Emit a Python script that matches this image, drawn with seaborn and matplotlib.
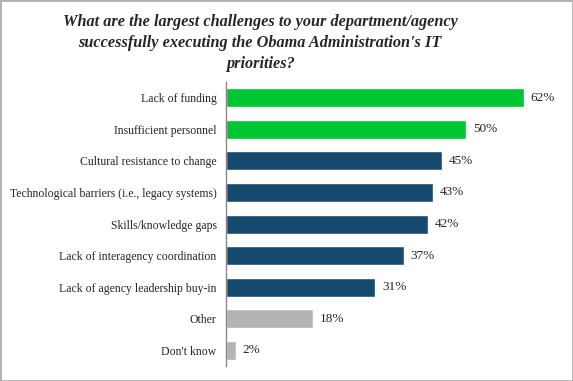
import pandas as pd
import seaborn as sns
import matplotlib.pyplot as plt
from matplotlib.patches import Rectangle

challenges = ['Lack of funding', 'Insufficient personnel', 'Cultural resistance to change',
              'Technological barriers (i.e., legacy systems)', 'Skills/knowledge gaps',
              'Lack of interagency coordination', 'Lack of agency leadership buy-in',
              'Other', "Don't know"]
percent = [62, 50, 45, 43, 42, 37, 31, 18, 2]
group = ['top', 'top', 'main', 'main', 'main', 'main', 'main', 'other', 'other']

colors = {'top': '#00c535', 'main': '#174a6f', 'other': '#b4b4b4'}

df = pd.DataFrame({'challenge': challenges, 'percent': percent, 'group': group})

sns.set_style('white')
plt.rcParams['font.family'] = ['Liberation Serif', 'DejaVu Serif']

fig = plt.figure(figsize=(5.73, 3.81), dpi=100)
ax = fig.add_axes([0.395, 0.039, 0.603, 0.746])
sns.barplot(data=df, x='percent', y='challenge', hue='group', palette=colors,
            dodge=False, legend=False, width=0.6, saturation=1, ax=ax)

for c in ax.containers:
    ax.bar_label(c, labels=[f'{v:.0f}%' for v in c.datavalues], padding=5, fontsize=9.5)

ax.set_xlim(0, 72)
ax.set_ylim(8.5, -0.5)
ax.set_xlabel('')
ax.set_ylabel('')
ax.set_xticks([])
ax.tick_params(axis='y', length=0, pad=7, labelsize=8.5)
for s in ['top', 'right', 'bottom']:
    ax.spines[s].set_visible(False)
ax.spines['left'].set_color('#888888')
ax.spines['left'].set_linewidth(1)

fig.text(0.454, 0.962, "What are the largest challenges to your department/agency\n"
         "successfully executing the Obama Administration's IT\npriorities?",
         ha='center', va='top', fontsize=11.7, fontweight='bold', fontstyle='italic',
         linespacing=1.4)

fig.patches.append(Rectangle((0, 0), 1, 1, transform=fig.transFigure, fill=False,
                             edgecolor='#b0b0b0', linewidth=2))

plt.savefig('out.png', dpi=100)
